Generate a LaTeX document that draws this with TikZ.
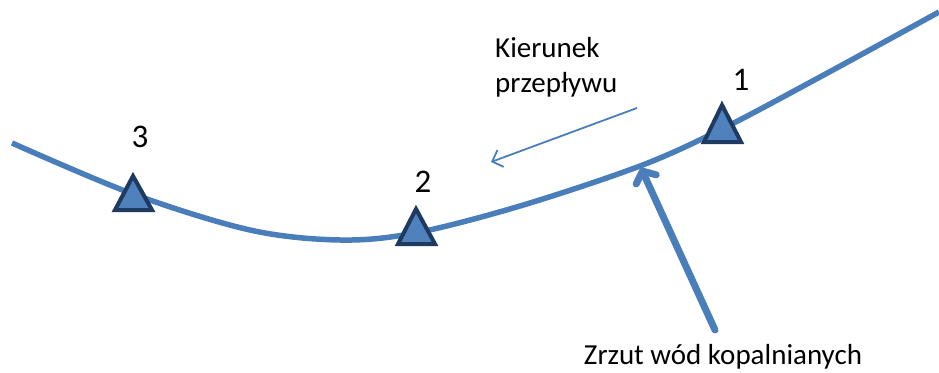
\documentclass[tikz,border=0pt]{standalone}
\usepackage{fontspec}
\setmainfont{Carlito}
\usetikzlibrary{arrows.meta}
\definecolor{lineblue}{HTML}{4A7EBB}
\definecolor{trifill}{HTML}{4F81BD}
\definecolor{tridraw}{HTML}{1F3A60}
\tikzset{
  river/.style={lineblue, line width=5.5pt},
  station/.style={fill=trifill, draw=tridraw, line width=4pt, line join=miter},
  lbl/.style={font=\fontsize{29}{35}\selectfont, inner sep=0pt},
  numlbl/.style={font=\fontsize{33}{38}\selectfont, inner sep=0pt},
  flowarrow/.style={lineblue, line width=1.8pt, -{Straight Barb[length=9pt,width=18pt]}},
  inflow/.style={lineblue, line width=7pt, line cap=round, -{Straight Barb[length=9pt,width=22pt,round]}}
}
\begin{document}
\begin{tikzpicture}[x=1pt,y=-1pt]
\useasboundingbox (0,0) rectangle (939,372);
\draw[river] plot[smooth, tension=0.55] coordinates {(12,143) (133,194) (250,230) (340,240) (415,233) (520,206) (640,166) (720,130) (820,77) (939,12)};
% stations
\draw[station] (133,176) -- (152,210) -- (115,210) -- cycle;
\coordinate (s3) at (133,193);
\draw[station] (416,209) -- (435,244) -- (398,244) -- cycle;
\coordinate (s2) at (416,226);
\draw[station] (722,105) -- (741,142) -- (704,142) -- cycle;
\coordinate (s1) at (722,124);
\node[numlbl] (n3) at (140,137) {3};
\node[numlbl] (n2) at (423,182) {2};
\node[numlbl] (n1) at (741,80) {1};
% flow direction
\node[lbl, align=left, anchor=north west] (flow) at (495,37) {Kierunek\\przepływu};
\coordinate (fa) at (637,108);
\coordinate (fb) at (491,162);
\draw[flowarrow] (fa) -- (fb);
% inflow
\node[lbl, anchor=base] (zrzut) at (723,364) {Zrzut wód kopalnianych};
\coordinate (ia) at (715,330);
\coordinate (ib) at (641,168);
\draw[inflow] (ia) -- (ib);
\end{tikzpicture}
\end{document}
